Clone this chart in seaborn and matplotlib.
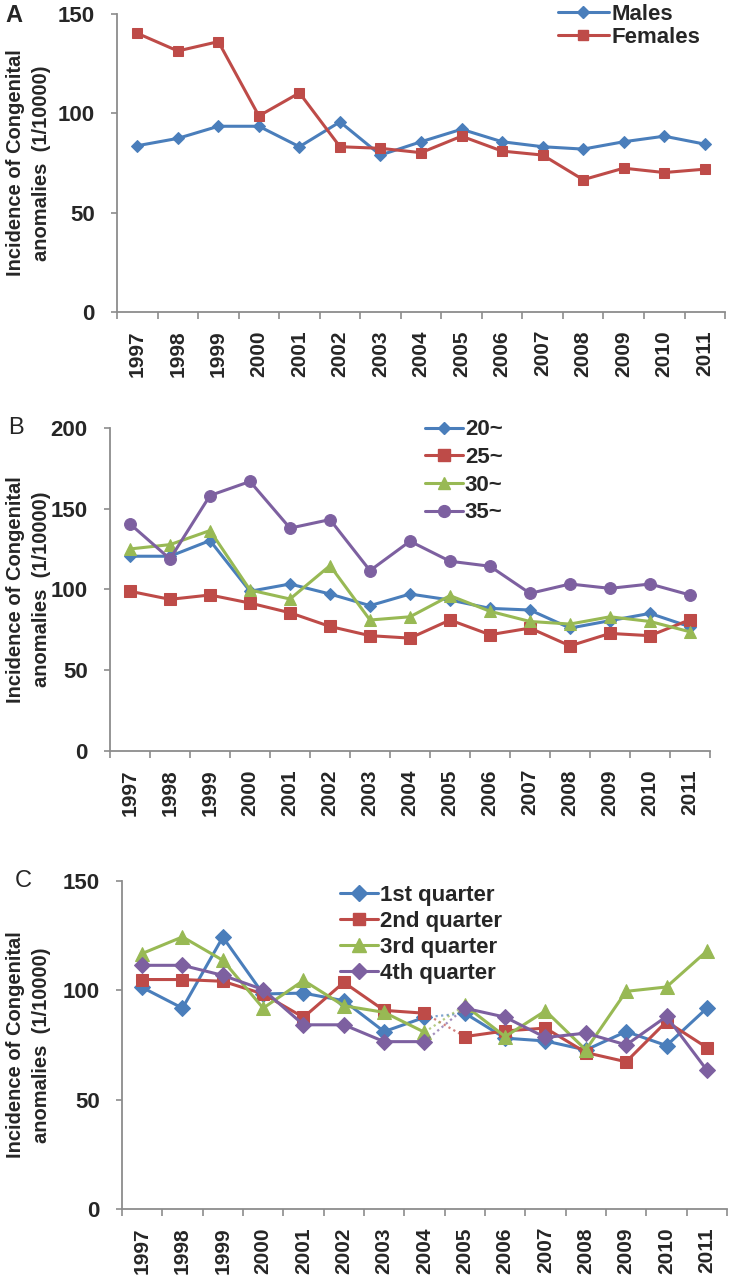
import matplotlib
matplotlib.use("Agg")
import matplotlib.pyplot as plt
from matplotlib.lines import Line2D
from matplotlib.ticker import FixedLocator
import seaborn as sns
import numpy as np

sns.set_theme(style="white")
plt.rcParams['font.family'] = ['Liberation Sans', 'DejaVu Sans']

# --- DATA ---
years = [str(y) for y in range(1997, 2012)]

# Panel A: by sex
males = [83.7, 87.4, 93.5, 93.5, 83.2, 95.7, 79.0, 85.7, 92.0, 85.7, 83.2, 82.0, 85.7, 88.5, 84.5]
females = [140.3, 131.4, 136.1, 98.7, 110.3, 83.2, 82.4, 80.2, 88.5, 81.0, 79.0, 66.6, 72.4, 70.2, 71.9]

# Panel B: by maternal age
age_labels = ["20~", "25~", "30~", "35~"]
age_20 = [120.6, 120.6, 130.3, 98.9, 103.4, 97.2, 90.0, 97.2, 93.5, 88.3, 87.3, 76.1, 80.7, 85.2, 76.9]
age_25 = [98.9, 93.9, 96.6, 91.6, 85.6, 77.1, 71.4, 69.9, 81.1, 72.0, 76.1, 65.1, 72.8, 71.4, 81.3]
age_30 = [125.1, 127.8, 136.5, 99.7, 94.1, 114.8, 81.1, 83.1, 96.2, 86.5, 80.2, 78.6, 83.1, 80.2, 73.8]
age_35 = [140.6, 118.9, 158.2, 166.9, 138.0, 143.3, 111.7, 129.9, 117.5, 114.4, 97.6, 103.4, 100.7, 103.4, 96.6]

# Panel C: by birth quarter
quarter_labels = ["1st quarter", "2nd quarter", "3rd quarter", "4th quarter"]
q1 = [101.3, 91.8, 124.3, 98.3, 98.7, 95.2, 81.1, 87.6, 89.5, 78.1, 76.8, 72.7, 81.1, 74.7, 91.8]
q2 = [104.9, 104.9, 104.1, 98.3, 87.6, 103.6, 90.8, 89.5, 78.8, 81.4, 82.7, 71.5, 67.3, 85.7, 73.8]
q3 = [116.8, 124.4, 113.7, 91.8, 104.5, 92.9, 89.9, 80.8, 93.1, 78.8, 90.6, 72.7, 99.5, 101.5, 117.9]
q4 = [111.4, 111.4, 106.8, 100.3, 84.2, 84.2, 76.5, 76.5, 91.8, 87.7, 78.4, 80.4, 75.0, 88.0, 63.5]

BLUE = "#4a7ebb"
RED = "#be4b48"
GREEN = "#98b954"
PURPLE = "#7d60a0"
AXIS_GREY = "#8c8c8c"
YLABEL = "Incidence of Congenital\nanomalies  (1/10000)"

x = np.arange(len(years))


def style_axis(ax, ymax, ystep):
    ax.set_xlim(-0.5, len(years) - 0.5)
    ax.set_ylim(0, ymax)
    ax.set_yticks(np.arange(0, ymax + 1, ystep))
    ax.set_xticks(x)
    ax.set_xticklabels(years, rotation=90, fontsize=15, fontweight='bold', va='top')
    ax.xaxis.set_minor_locator(FixedLocator(np.arange(-0.5, len(years), 1.0)))
    ax.tick_params(axis='x', which='major', length=0, pad=13)
    ax.tick_params(axis='x', which='minor', length=5, width=1.2, color=AXIS_GREY, direction='out', bottom=True)
    ax.tick_params(axis='y', length=4, width=1.2, color=AXIS_GREY, direction='out', left=True, labelsize=16, pad=12)
    for lab in ax.get_yticklabels():
        lab.set_fontweight('bold')
    for s in ['top', 'right']:
        ax.spines[s].set_visible(False)
    for s in ['left', 'bottom']:
        ax.spines[s].set_color(AXIS_GREY)
        ax.spines[s].set_linewidth(1.3)
    ax.set_xlabel("")
    ax.set_ylabel("")
    # two-line y label sits at the far left of the figure
    pos = ax.get_position()
    fig.text(0.039, pos.y0 + pos.height / 2, YLABEL, rotation=90, ha='center', va='center',
             multialignment='center', fontsize=14.5, fontweight='bold', linespacing=1.45)


def draw(ax, vals, color, marker, ms, xs=None, **kw):
    xs = x if xs is None else xs
    sns.lineplot(x=xs, y=vals, ax=ax, color=color, marker=marker, markersize=ms,
                 markeredgecolor=color, linewidth=2.2, legend=False, **kw)


def add_legend(fig, handles, labels, anchor, hlen, spacing):
    fig.legend(handles, labels, loc='upper left', bbox_to_anchor=anchor, frameon=False,
               handlelength=hlen, handletextpad=0.1, labelspacing=spacing, borderaxespad=0,
               borderpad=0, prop={'weight': 'bold', 'size': 16})


def handle(color, marker, ms):
    return Line2D([0], [0], color=color, marker=marker, markersize=ms, linewidth=2.2,
                  markeredgecolor=color)


fig = plt.figure(figsize=(7.3, 12.75), dpi=100)

# Panel A
axA = fig.add_axes([0.1603, 0.7553, 0.8329, 0.2337])
draw(axA, males, BLUE, 'D', 6)
draw(axA, females, RED, 's', 7.5)
style_axis(axA, 150, 50)
add_legend(fig, [handle(BLUE, 'D', 6), handle(RED, 's', 7.5)], ["Males", "Females"],
           (0.764, 0.997), 2.3, 0.1)
fig.text(0.007, 0.997, "A", fontsize=17, fontweight='bold', va='top')

# Panel B
axB = fig.add_axes([0.1507, 0.411, 0.8219, 0.2533])
draw(axB, age_20, BLUE, 'D', 6.5)
draw(axB, age_25, RED, 's', 8)
draw(axB, age_30, GREEN, '^', 9)
draw(axB, age_35, PURPLE, 'o', 8.5)
style_axis(axB, 200, 50)
add_legend(fig, [handle(BLUE, 'D', 6.5), handle(RED, 's', 8), handle(GREEN, '^', 9), handle(PURPLE, 'o', 8.5)],
           age_labels, (0.582, 0.671), 1.7, 0.3)
fig.text(0.011, 0.673, "B", fontsize=17, va='top')

# Panel C: 2004 -> 2005 drawn dotted
axC = fig.add_axes([0.1671, 0.0518, 0.8288, 0.2573])
quarters = [(q1, BLUE, 'D', 8), (q2, RED, 's', 9), (q3, GREEN, '^', 10), (q4, PURPLE, 'D', 8)]
for vals, color, marker, ms in quarters:
    draw(axC, vals[:8], color, marker, ms, xs=x[:8])
    draw(axC, vals[8:], color, marker, ms, xs=x[8:])
    sns.lineplot(x=x[7:9], y=vals[7:9], ax=axC, color=color, linewidth=1.6,
                 linestyle=(0, (1, 1.5)), alpha=0.7, legend=False)
style_axis(axC, 150, 50)
add_legend(fig, [handle(c, m, s) for _, c, m, s in quarters], quarter_labels,
           (0.466, 0.306), 1.7, 0.22)
fig.text(0.02, 0.318, "C", fontsize=17, va='top')

fig.savefig("out.png", dpi=100)
